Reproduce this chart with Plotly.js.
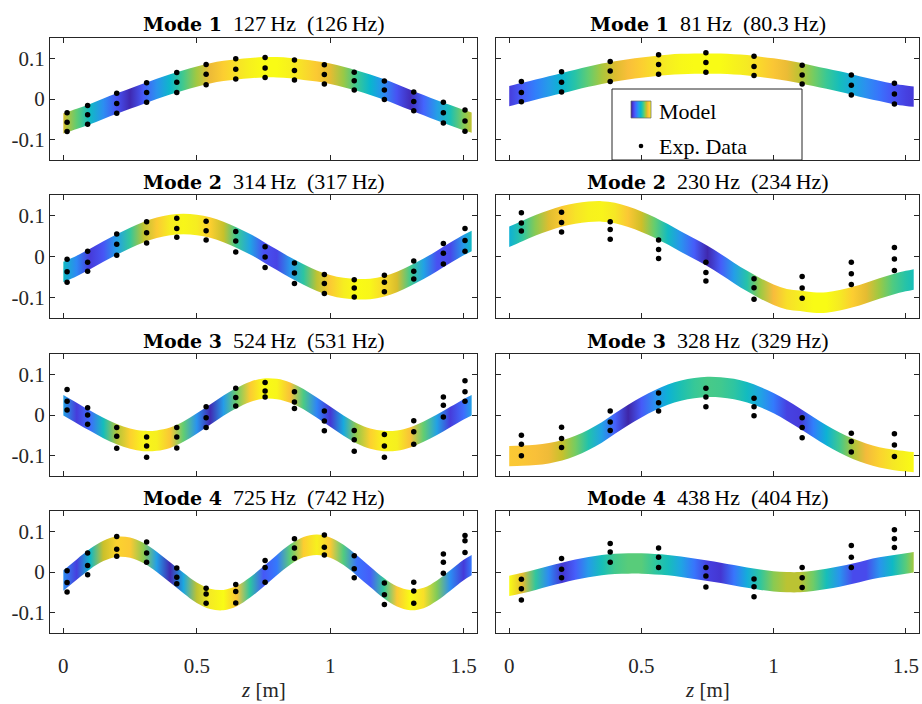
<!DOCTYPE html>
<html><head><meta charset="utf-8">
<script src="https://cdn.plot.ly/plotly-3.0.1.min.js"></script>
<style>html,body{margin:0;padding:0;background:#fff}#chart{width:922px;height:704px}</style>
</head><body><div id="chart"></div>
<script>
// ---------------- DATA ----------------
const zModel = [0,0.05,0.1,0.15,0.2,0.25,0.3,0.35,0.4,0.45,0.5,0.55,0.6,0.65,0.7,0.75,0.8,0.85,0.9,0.95,1.0,1.05,1.1,1.15,1.2,1.25,1.3,1.35,1.4,1.45,1.5,1.53];

const modelL1 = [-0.060,-0.049,-0.037,-0.024,-0.011,0.001,0.013,0.025,0.036,0.046,0.055,0.063,0.069,0.073,0.076,0.078,0.078,0.076,0.072,0.068,0.062,0.054,0.045,0.035,0.024,0.011,-0.002,-0.015,-0.028,-0.040,-0.052,-0.058];
const modelL2 = [-0.038,-0.023,-0.006,0.012,0.029,0.045,0.059,0.070,0.077,0.079,0.077,0.071,0.060,0.046,0.030,0.011,-0.008,-0.027,-0.044,-0.059,-0.070,-0.077,-0.080,-0.079,-0.073,-0.062,-0.047,-0.030,-0.011,0.009,0.028,0.038];
const modelL3 = [0.024,0.005,-0.014,-0.032,-0.047,-0.058,-0.064,-0.063,-0.056,-0.041,-0.021,0.001,0.023,0.042,0.057,0.065,0.064,0.055,0.039,0.018,-0.004,-0.026,-0.045,-0.058,-0.064,-0.063,-0.055,-0.041,-0.024,-0.005,0.014,0.024];
const modelL4 = [-0.021,0.006,0.032,0.052,0.062,0.060,0.047,0.025,-0.001,-0.027,-0.051,-0.066,-0.069,-0.059,-0.038,-0.011,0.017,0.043,0.061,0.067,0.060,0.042,0.016,-0.012,-0.039,-0.060,-0.069,-0.064,-0.046,-0.021,0.005,0.017];
const modelR1 = [0.007,0.015,0.023,0.031,0.039,0.047,0.055,0.062,0.068,0.073,0.077,0.081,0.084,0.086,0.087,0.087,0.087,0.085,0.083,0.079,0.075,0.070,0.064,0.057,0.050,0.043,0.035,0.027,0.020,0.013,0.008,0.006];
const modelR2 = [0.048,0.062,0.076,0.088,0.098,0.105,0.109,0.110,0.106,0.097,0.085,0.071,0.054,0.036,0.019,0.001,-0.019,-0.040,-0.060,-0.078,-0.093,-0.104,-0.108,-0.112,-0.112,-0.107,-0.099,-0.089,-0.078,-0.068,-0.060,-0.056];
const modelR3 = [-0.101,-0.100,-0.098,-0.094,-0.087,-0.076,-0.061,-0.043,-0.021,0.000,0.019,0.036,0.050,0.060,0.066,0.069,0.068,0.064,0.056,0.044,0.029,0.011,-0.009,-0.030,-0.050,-0.068,-0.083,-0.095,-0.104,-0.110,-0.114,-0.116];
const modelR4 = [-0.034,-0.027,-0.019,-0.010,-0.002,0.006,0.012,0.017,0.020,0.021,0.021,0.019,0.017,0.013,0.008,0.003,-0.002,-0.008,-0.014,-0.019,-0.023,-0.025,-0.025,-0.022,-0.017,-0.011,-0.004,0.004,0.011,0.016,0.021,0.024];

const sensorZL = [0.014,0.091,0.200,0.312,0.425,0.535,0.646,0.756,0.866,0.978,1.090,1.203,1.313,1.424,1.505];
const sensorZR = [0.046,0.198,0.382,0.565,0.744,0.926,1.108,1.294,1.457];

const expL1 = [[-0.034,-0.057,-0.080],[-0.016,-0.039,-0.062],[0.014,-0.011,-0.035],[0.040,0.016,-0.008],[0.065,0.041,0.016],[0.085,0.061,0.035],[0.099,0.073,0.049],[0.102,0.076,0.053],[0.096,0.070,0.047],[0.084,0.060,0.037],[0.066,0.045,0.022],[0.044,0.022,-0.001],[0.017,-0.006,-0.029],[-0.008,-0.034,-0.059],[-0.027,-0.054,-0.079]];
const expL2 = [[-0.007,-0.037,-0.063],[0.013,-0.014,-0.036],[0.055,0.030,0.003],[0.085,0.058,0.033],[0.093,0.068,0.047],[0.086,0.063,0.040],[0.061,0.038,0.011],[0.024,-0.001,-0.027],[-0.016,-0.040,-0.066],[-0.044,-0.066,-0.090],[-0.057,-0.077,-0.099],[-0.046,-0.063,-0.086],[-0.011,-0.036,-0.055],[0.032,0.008,-0.018],[0.068,0.039,0.013]];
const expL3 = [[0.063,0.034,0.012],[0.018,0.000,-0.023],[-0.031,-0.052,-0.082],[-0.054,-0.076,-0.104],[-0.031,-0.054,-0.081],[0.020,-0.007,-0.031],[0.066,0.043,0.022],[0.080,0.059,0.044],[0.057,0.032,0.016],[0.010,-0.015,-0.039],[-0.038,-0.061,-0.089],[-0.048,-0.076,-0.104],[-0.014,-0.041,-0.072],[0.044,0.024,-0.005],[0.084,0.057,0.034]];
const expL4 = [[0.003,-0.026,-0.049],[0.047,0.016,-0.007],[0.087,0.056,0.039],[0.074,0.047,0.024],[0.010,-0.013,-0.029],[-0.040,-0.054,-0.077],[-0.031,-0.048,-0.076],[0.028,0.011,-0.025],[0.082,0.059,0.034],[0.091,0.061,0.042],[0.040,0.008,-0.014],[-0.027,-0.056,-0.080],[-0.025,-0.047,-0.077],[0.044,0.024,-0.003],[0.090,0.077,0.048]];
const expR1 = [[0.043,0.016,-0.007],[0.067,0.041,0.017],[0.092,0.069,0.043],[0.109,0.085,0.061],[0.114,0.090,0.066],[0.105,0.080,0.058],[0.083,0.059,0.037],[0.059,0.034,0.010],[0.039,0.012,-0.012]];
const expR2 = [[0.107,0.082,0.062],[0.108,0.083,0.060],[0.085,0.066,0.042],[0.040,0.017,-0.005],[-0.014,-0.039,-0.060],[-0.054,-0.076,-0.104],[-0.049,-0.077,-0.102],[-0.014,-0.042,-0.068],[0.022,-0.006,-0.034]];
const expR3 = [[-0.050,-0.072,-0.100],[-0.030,-0.058,-0.080],[0.010,-0.017,-0.038],[0.054,0.030,0.010],[0.066,0.044,0.020],[0.041,0.020,-0.002],[-0.007,-0.031,-0.056],[-0.045,-0.065,-0.091],[-0.046,-0.074,-0.102]];
const expR4 = [[-0.018,-0.041,-0.069],[0.033,0.007,-0.014],[0.070,0.049,0.024],[0.059,0.036,0.011],[0.011,-0.010,-0.037],[-0.017,-0.036,-0.061],[0.011,-0.014,-0.038],[0.065,0.036,0.011],[0.104,0.082,0.060]];

const modeNames = ['Mode 1','Mode 2','Mode 3','Mode 4'];
const freqModelL = ['127','314','524','725'];
const freqExpL   = ['126','317','531','742'];
const freqModelR = ['81','230','328','438'];
const freqExpR   = ['80.3','234','329','404'];
const xTickVals = [0,0.5,1,1.5];
const xTickText = ['0','0.5','1','1.5'];
const yTickVals = [-0.1,0,0.1];
const yTickText = ['-0.1','0','0.1'];
const legendNames = ['Model','Exp. Data'];

// ---------------- STYLE ----------------
const W = 922, H = 704;
const FONT = "'Liberation Serif', 'DejaVu Serif', serif";
const BOLDFONT = "'DejaVu Serif', 'Liberation Serif', serif";
const INK = '#262626';
const HALF = 0.025;             // half thickness of the model band
const colPx = [[50,477],[496,919]];
const rowPx = [[38,160],[195,318],[354,476],[511,633]];
const PARULA = [[0,'#3e26a8'],[4,'#4537d5'],[8,'#484df0'],[12,'#4563fd'],[16,'#327cfc'],[20,'#2b91ef'],[24,'#20a5e3'],[28,'#08b5d0'],[32,'#19bfb6'],[36,'#37c897'],[40,'#64cd6f'],[44,'#9dc943'],[48,'#d1bf27'],[52,'#f8ba3d'],[56,'#fccf30'],[60,'#f5e924'],[63,'#f9fb15']].map(s=>[s[0]/63,s[1]]);
function hex2rgb(h){return [parseInt(h.substr(1,2),16),parseInt(h.substr(3,2),16),parseInt(h.substr(5,2),16)];}
function parula(t){
  t = Math.max(0,Math.min(1,t));
  for(let i=0;i<PARULA.length-1;i++){
    const a=PARULA[i], b=PARULA[i+1];
    if(t<=b[0]){const f=(t-a[0])/(b[0]-a[0]);const ca=hex2rgb(a[1]),cb=hex2rgb(b[1]);
      return 'rgb('+ca.map((v,k)=>Math.round(v+(cb[k]-v)*f)).join(',')+')';}
  }
  return PARULA[PARULA.length-1][1];
}
function bandScale(center){
  const m = Math.max(...center.map(Math.abs));
  const z0 = zModel[0], z1 = zModel[zModel.length-1];
  return zModel.map((z,i)=>[i===zModel.length-1?1:(z-z0)/(z1-z0), parula(Math.abs(center[i])/m)]);
}
const px2x = p => p/W, px2y = p => 1 - p/H;

const panels = [
  {r:0,c:0,model:modelL1,exp:expL1,sz:sensorZL,fa:freqModelL[0],fb:freqExpL[0]},
  {r:0,c:1,model:modelR1,exp:expR1,sz:sensorZR,fa:freqModelR[0],fb:freqExpR[0]},
  {r:1,c:0,model:modelL2,exp:expL2,sz:sensorZL,fa:freqModelL[1],fb:freqExpL[1]},
  {r:1,c:1,model:modelR2,exp:expR2,sz:sensorZR,fa:freqModelR[1],fb:freqExpR[1]},
  {r:2,c:0,model:modelL3,exp:expL3,sz:sensorZL,fa:freqModelL[2],fb:freqExpL[2]},
  {r:2,c:1,model:modelR3,exp:expR3,sz:sensorZR,fa:freqModelR[2],fb:freqExpR[2]},
  {r:3,c:0,model:modelL4,exp:expL4,sz:sensorZL,fa:freqModelL[3],fb:freqExpL[3]},
  {r:3,c:1,model:modelR4,exp:expR4,sz:sensorZR,fa:freqModelR[3],fb:freqExpR[3]}
];

const traces = [];
const layout = {
  width:W, height:H, margin:{l:0,r:0,t:0,b:0},
  paper_bgcolor:'#ffffff', plot_bgcolor:'rgba(0,0,0,0)',
  showlegend:false, font:{family:FONT,color:INK},
  annotations:[], shapes:[]
};

panels.forEach((p,i)=>{
  const k = i+1, sfx = k===1?'':String(k);
  const xa='x'+sfx, ya='y'+sfx;
  const upper = p.model.map(v=>v+HALF), lower = p.model.map(v=>v-HALF);
  traces.push({type:'scatter',x:zModel,y:lower,mode:'lines',line:{width:0,shape:'spline',color:'rgba(0,0,0,0)'},
    hoverinfo:'skip',showlegend:false,xaxis:xa,yaxis:ya});
  traces.push({type:'scatter',x:zModel,y:upper,mode:'lines',line:{width:0,shape:'spline',color:'rgba(0,0,0,0)'},
    fill:'tonexty',fillgradient:{type:'horizontal',colorscale:bandScale(p.model),start:zModel[0],stop:zModel[zModel.length-1]},
    name:legendNames[0],showlegend:false,xaxis:xa,yaxis:ya});
  const ex=[], ey=[];
  p.exp.forEach((tri,j)=>tri.forEach(v=>{ex.push(p.sz[j]);ey.push(v);}));
  traces.push({type:'scatter',x:ex,y:ey,mode:'markers',marker:{size:5.5,color:'#000'},
    name:legendNames[1],showlegend:false,xaxis:xa,yaxis:ya});

  const cp = colPx[p.c], rp = rowPx[p.r];
  layout['xaxis'+sfx] = {domain:[px2x(cp[0]),px2x(cp[1])],range:[-0.05,1.55],anchor:ya,
    tickvals:xTickVals,ticktext:xTickText,showticklabels:p.r===3,ticks:'inside',ticklen:5,tickwidth:1,tickcolor:INK,
    showline:true,linecolor:INK,linewidth:1,mirror:'allticks',showgrid:false,zeroline:false,
    tickfont:{family:FONT,size:21,color:INK},ticklabelstandoff:14,fixedrange:true};
  layout['yaxis'+sfx] = {domain:[px2y(rp[1]),px2y(rp[0])],range:[-0.15,0.15],anchor:xa,
    tickvals:yTickVals,ticktext:yTickText,showticklabels:p.c===0,ticks:'inside',ticklen:5,tickwidth:1,tickcolor:INK,
    showline:true,linecolor:INK,linewidth:1,mirror:'allticks',showgrid:false,zeroline:false,
    tickfont:{family:FONT,size:21,color:INK},fixedrange:true};
  layout.annotations.push({xref:'paper',yref:'paper',x:px2x((cp[0]+cp[1])/2),y:px2y(rp[0]-14),
    xanchor:'center',yanchor:'middle',showarrow:false,
    text:'<span style="font-family:'+BOLDFONT.replace(/'/g,'')+';font-size:19px"><b>'+modeNames[p.r]+'</b></span>\u2002'+p.fa+'\u2009Hz\u2002('+p.fb+'\u2009Hz)',
    font:{family:FONT,size:22,color:'#000'}});
  if(p.r===3){
    layout.annotations.push({xref:'paper',yref:'paper',x:px2x((cp[0]+cp[1])/2),y:px2y(690),
      xanchor:'center',yanchor:'middle',showarrow:false,text:'<i>z</i> [m]',font:{family:FONT,size:21,color:INK}});
  }
});

// ---------- legend (inside Mode 1 right panel) ----------
const sw = [631,651,101,118];
layout.xaxis9 = {domain:[px2x(sw[0]),px2x(sw[1])],range:[0,1],visible:false,anchor:'y9',fixedrange:true};
layout.yaxis9 = {domain:[px2y(sw[3]),px2y(sw[2])],range:[0,1],visible:false,anchor:'x9',fixedrange:true};
traces.push({type:'heatmap',x:[0,1],y:[0,1],z:[[0,1],[0,1]],zsmooth:'best',colorscale:PARULA,zmin:0,zmax:1,
  showscale:false,hoverinfo:'skip',xaxis:'x9',yaxis:'y9'});
layout.shapes.push({type:'rect',xref:'paper',yref:'paper',x0:px2x(612),x1:px2x(802),y0:px2y(160),y1:px2y(89),
  line:{color:INK,width:1},fillcolor:'rgba(0,0,0,0)',layer:'above'});
layout.shapes.push({type:'rect',xref:'paper',yref:'paper',x0:px2x(sw[0]),x1:px2x(sw[1]),y0:px2y(sw[3]),y1:px2y(sw[2]),
  line:{color:'#666',width:0.7},fillcolor:'rgba(0,0,0,0)',layer:'above'});
layout.shapes.push({type:'circle',xref:'paper',yref:'paper',x0:px2x(641-2.3),x1:px2x(641+2.3),y0:px2y(146+2.3),y1:px2y(146-2.3),
  line:{width:0},fillcolor:'#000',layer:'above'});
layout.annotations.push({xref:'paper',yref:'paper',x:px2x(657),y:px2y(111),xanchor:'left',yanchor:'middle',showarrow:false,
  text:legendNames[0],font:{family:FONT,size:22,color:'#000'}});
layout.annotations.push({xref:'paper',yref:'paper',x:px2x(657),y:px2y(146),xanchor:'left',yanchor:'middle',showarrow:false,
  text:legendNames[1],font:{family:FONT,size:22,color:'#000'}});

Plotly.newPlot('chart',traces,layout,{displayModeBar:false,staticPlot:true});
</script></body></html>
